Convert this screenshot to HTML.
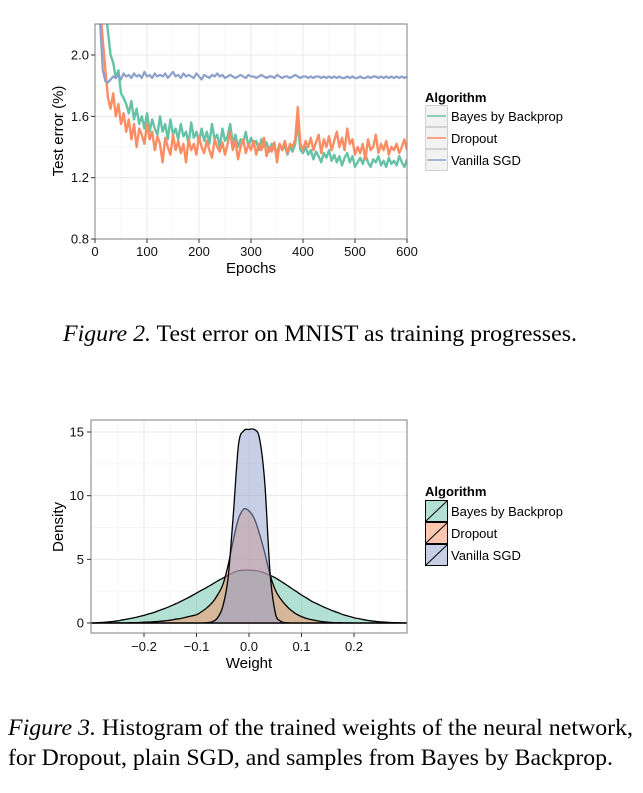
<!DOCTYPE html>
<html><head><meta charset="utf-8"><style>
html,body{margin:0;padding:0;background:#fff;width:643px;height:793px;overflow:hidden}
svg{display:block}
.t{font-family:"Liberation Sans",sans-serif}
.s{font-family:"Liberation Serif",serif;font-size:23.5px}
</style></head><body>
<svg id="root" width="643" height="793" viewBox="0 0 643 793">
<g id="top"></g>
<g id="bot"></g>
<text class="s" x="63" y="341" textLength="514" lengthAdjust="spacingAndGlyphs"><tspan font-style="italic">Figure 2.</tspan> Test error on MNIST as training progresses.</text>
<text class="s" x="8" y="735" textLength="625" lengthAdjust="spacingAndGlyphs"><tspan font-style="italic">Figure 3.</tspan> Histogram of the trained weights of the neural network,</text>
<text class="s" x="8" y="765" textLength="605" lengthAdjust="spacingAndGlyphs">for Dropout, plain SGD, and samples from Bayes by Backprop.</text>
</svg>
<script>
// ---- Figure 2 data (epochs 10..600 step 5) ----
const epochStart = 10, epochStep = 5;
const sgdErr = [2.2,1.9,1.83,1.82,1.84,1.86,1.85,1.87,1.84,1.88,
1.86,1.87,1.85,1.88,1.86,1.87,1.85,1.89,1.86,1.87,
1.85,1.88,1.86,1.87,1.86,1.88,1.85,1.87,1.89,1.86,
1.87,1.85,1.88,1.86,1.87,1.86,1.85,1.88,1.86,1.84,
1.87,1.86,1.85,1.87,1.86,1.88,1.86,1.87,1.85,1.86,
1.87,1.86,1.85,1.86,1.87,1.86,1.85,1.87,1.86,1.86,
1.85,1.86,1.87,1.86,1.85,1.86,1.86,1.85,1.87,1.86,
1.85,1.86,1.86,1.85,1.86,1.87,1.86,1.85,1.86,1.86,
1.85,1.86,1.85,1.86,1.86,1.85,1.86,1.85,1.86,1.85,
1.86,1.85,1.86,1.85,1.85,1.86,1.85,1.86,1.85,1.85,
1.86,1.85,1.85,1.86,1.85,1.86,1.86,1.85,1.86,1.85,
1.86,1.85,1.86,1.85,1.86,1.85,1.86,1.85,1.86];
const bayesErr = [2.5,2.4,2.3,2.15,2.0,1.95,1.85,1.9,1.75,1.72,
1.68,1.62,1.7,1.58,1.65,1.55,1.6,1.52,1.62,1.5,
1.58,1.52,1.48,1.6,1.5,1.55,1.45,1.58,1.48,1.52,
1.45,1.55,1.47,1.5,1.42,1.56,1.46,1.5,1.43,1.52,
1.44,1.5,1.42,1.55,1.45,1.48,1.4,1.52,1.44,1.47,
1.55,1.42,1.48,1.4,1.45,1.43,1.5,1.4,1.46,1.42,
1.44,1.38,1.45,1.4,1.43,1.37,1.42,1.39,1.36,1.42,
1.38,1.41,1.35,1.4,1.37,1.42,1.55,1.38,1.36,1.4,
1.35,1.38,1.32,1.37,1.34,1.3,1.36,1.33,1.38,1.31,
1.35,1.3,1.34,1.28,1.33,1.36,1.3,1.34,1.27,1.3,
1.33,1.29,1.35,1.3,1.27,1.32,1.3,1.34,1.28,1.31,
1.27,1.33,1.29,1.31,1.28,1.34,1.3,1.27,1.32];
const dropoutErr = [2.3,2.1,1.9,1.72,1.65,1.75,1.6,1.68,1.55,1.62,
1.5,1.58,1.45,1.55,1.4,1.52,1.48,1.42,1.55,1.45,
1.5,1.38,1.47,1.42,1.3,1.46,1.4,1.35,1.48,1.38,
1.44,1.36,1.42,1.3,1.45,1.38,1.42,1.35,1.47,1.4,
1.36,1.44,1.38,1.33,1.45,1.4,1.37,1.43,1.35,1.42,
1.5,1.38,1.44,1.32,1.4,1.45,1.36,1.42,1.38,1.44,
1.35,1.42,1.38,1.46,1.34,1.4,1.37,1.43,1.3,1.42,
1.38,1.44,1.36,1.42,1.4,1.45,1.66,1.42,1.38,1.44,
1.4,1.46,1.38,1.43,1.48,1.36,1.45,1.4,1.47,1.38,
1.44,1.5,1.4,1.46,1.38,1.52,1.42,1.45,1.35,1.4,
1.36,1.42,1.32,1.45,1.38,1.4,1.48,1.36,1.42,1.38,
1.44,1.35,1.4,1.38,1.42,1.36,1.4,1.45,1.38];
const xTicks1 = [0,100,200,300,400,500,600];
const yTicks1 = [0.8,1.2,1.6,2.0];
const yTickLabels1 = ["0.8","1.2","1.6","2.0"];
const seriesNames = ["Bayes by Backprop","Dropout","Vanilla SGD"];

// ---- Figure 3 data (weight -0.30..0.30 step 0.01) ----
const wStart = -0.30, wStep = 0.01;
const bayesDens = [0,0.02,0.05,0.08,0.12,0.17,0.25,0.32,0.4,0.5,
0.6,0.72,0.85,1.0,1.15,1.32,1.5,1.7,1.9,2.12,
2.35,2.58,2.8,3.05,3.3,3.52,3.75,3.95,4.1,4.15,
4.15,4.12,4.05,3.92,3.75,3.55,3.3,3.03,2.75,2.48,
2.2,1.95,1.7,1.5,1.3,1.12,0.95,0.8,0.65,0.53,
0.42,0.33,0.25,0.18,0.13,0.09,0.06,0.04,0.02,0.01,0];
const dropoutDens = [0,0,0,0,0,0.01,0.01,0.02,0.03,0.04,
0.06,0.08,0.1,0.13,0.17,0.22,0.3,0.35,0.45,0.55,
0.65,0.9,1.2,1.6,2.2,3.0,4.5,6.5,8.2,8.95,
8.8,8.2,7.0,5.5,3.8,2.6,1.9,1.4,1.0,0.7,
0.5,0.35,0.25,0.17,0.1,0.06,0.03,0.02,0.01,0.01,
0,0,0,0,0,0,0,0,0,0,0];
const sgdDens = [0,0,0,0,0,0,0,0,0,0,
0,0,0,0,0,0,0,0,0,0,
0,0,0.03,0.1,0.4,1.3,3.5,8.5,14,15.1,
15.2,15.2,14.5,11,4,0.8,0.15,0.03,0,0,
0,0,0,0,0,0,0,0,0,0,
0,0,0,0,0,0,0,0,0,0,0];
const xTicks2 = [-0.2,-0.1,0.0,0.1,0.2];
const xTickLabels2 = ["\u22120.2","\u22120.1","0.0","0.1","0.2"];
const yTicks2 = [0,5,10,15];

const NS = "http://www.w3.org/2000/svg";
function mk(tag, attrs, parent){const e=document.createElementNS(NS,tag);for(const k in attrs)e.setAttribute(k,attrs[k]);parent.appendChild(e);return e;}
const colors = ["#66c2a5","#fc8d62","#8da0cb"];

// ===== Top chart =====
(function(){
  const g = document.getElementById('top');
  const L=95,R=407,T=24,B=239;
  const xs = v => L + (v-0)/(600-0)*(R-L);
  const ys = v => 55 + (2.0-v)/(2.0-0.8)*(239-55);
  mk('rect',{x:L,y:T,width:R-L,height:B-T,fill:'#fff'},g);
  for (let v=50; v<600; v+=100){const l=mk('line',{x1:xs(v),x2:xs(v),y1:T,y2:B,stroke:'#f5f5f5','stroke-width':0.8},g);}
  for (let v=1.0; v<2.3; v+=0.4){const l=mk('line',{x1:L,x2:R,y1:ys(v),y2:ys(v),stroke:'#f5f5f5','stroke-width':0.8},g);}
  xTicks1.forEach(v=>{const l=mk('line',{x1:xs(v),x2:xs(v),y1:T,y2:B,stroke:'#e8e8e8','stroke-width':1},g);});
  yTicks1.forEach(v=>{const l=mk('line',{x1:L,x2:R,y1:ys(v),y2:ys(v),stroke:'#e8e8e8','stroke-width':1},g);});
  const cp = mk('clipPath',{id:'c1'},g); mk('rect',{x:L,y:T,width:R-L,height:B-T},cp);
  const sets=[bayesErr,dropoutErr,sgdErr];
  const names=['bayes-line','dropout-line','sgd-line'];
  sets.forEach((arr,i)=>{
    const d = arr.map((v,j)=>(j?'L':'M')+xs(epochStart+j*epochStep).toFixed(1)+','+ys(v).toFixed(1)).join('');
    const p=mk('path',{d:d,fill:'none',stroke:colors[i],'stroke-width':i==2?2.2:2.4,'clip-path':'url(#c1)','stroke-linejoin':'round'},g);
    
    
  });
  mk('rect',{x:L,y:T,width:R-L,height:B-T,fill:'none',stroke:'#7f7f7f','stroke-width':1},g);
  xTicks1.forEach(v=>{
    mk('line',{x1:xs(v),x2:xs(v),y1:B,y2:B+4,stroke:'#333'},g);
    const t=mk('text',{x:xs(v),y:B+17,'text-anchor':'middle','font-size':13,class:'t',fill:'#111'},g);t.textContent=v;
    
    
  });
  yTicks1.forEach((v,i)=>{
    mk('line',{x1:L-4,x2:L,y1:ys(v),y2:ys(v),stroke:'#333'},g);
    const t=mk('text',{x:L-6,y:ys(v)+4.5,'text-anchor':'end','font-size':13,class:'t',fill:'#111'},g);t.textContent=yTickLabels1[i];
    
    
  });
  let t=mk('text',{x:251,y:273,'text-anchor':'middle','font-size':15,class:'t'},g);t.textContent='Epochs';
  
  
  t=mk('text',{x:0,y:0,'text-anchor':'middle','font-size':15,class:'t',transform:'translate(63,131) rotate(-90)'},g);t.textContent='Test error (%)';
  
  
  t=mk('text',{x:425,y:102,'font-size':13,'font-weight':'bold',class:'t'},g);t.textContent='Algorithm';
  
  
  seriesNames.forEach((n,i)=>{
    const y0=105+i*22;
    const k=mk('g',{},g);
    
    
    mk('rect',{x:425.5,y:y0+0.5,width:22,height:21,fill:'#f2f2f2',stroke:'#d0d0d0'},k);
    mk('line',{x1:427,x2:446,y1:y0+11,y2:y0+11,stroke:colors[i],'stroke-width':1.6},k);
    const tt=mk('text',{x:451,y:y0+16,'font-size':13,class:'t'},k);tt.textContent=n;
  });
})();

// ===== Bottom chart =====
(function(){
  const g = document.getElementById('bot');
  const L=91,R=407,T=420,B=633;
  const xs = v => 249 + v*525;
  const ys = v => 623 - v*(623-432)/15;
  mk('rect',{x:L,y:T,width:R-L,height:B-T,fill:'#fff'},g);
  [-0.25,-0.15,-0.05,0.05,0.15,0.25].forEach(v=>{const l=mk('line',{x1:xs(v),x2:xs(v),y1:T,y2:B,stroke:'#f5f5f5','stroke-width':0.8},g);});
  [2.5,7.5,12.5].forEach(v=>{const l=mk('line',{x1:L,x2:R,y1:ys(v),y2:ys(v),stroke:'#f5f5f5','stroke-width':0.8},g);});
  xTicks2.forEach(v=>{const l=mk('line',{x1:xs(v),x2:xs(v),y1:T,y2:B,stroke:'#e8e8e8'},g);});
  yTicks2.forEach(v=>{const l=mk('line',{x1:L,x2:R,y1:ys(v),y2:ys(v),stroke:'#e8e8e8'},g);});
  const cp = mk('clipPath',{id:'c2'},g); mk('rect',{x:L,y:T,width:R-L,height:B-T},cp);
  function smooth(arr){
    const pts=arr.map((v,j)=>[xs(wStart+j*wStep),ys(v)]);
    let d='M'+pts[0][0].toFixed(1)+','+pts[0][1].toFixed(1);
    for(let i=0;i<pts.length-1;i++){
      const p0=pts[Math.max(0,i-1)],p1=pts[i],p2=pts[i+1],p3=pts[Math.min(pts.length-1,i+2)];
      const c1=[p1[0]+(p2[0]-p0[0])/6,p1[1]+(p2[1]-p0[1])/6];
      const c2=[p2[0]-(p3[0]-p1[0])/6,p2[1]-(p3[1]-p1[1])/6];
      d+='C'+c1[0].toFixed(1)+','+Math.min(c1[1],623).toFixed(1)+' '+c2[0].toFixed(1)+','+Math.min(c2[1],623).toFixed(1)+' '+p2[0].toFixed(1)+','+p2[1].toFixed(1);
    }
    return d+'Z';
  }
  const sets=[bayesDens,dropoutDens,sgdDens];
  const names=['bayes-density','dropout-density','sgd-density'];
  sets.forEach((arr,i)=>{
    const p=mk('path',{d:smooth(arr),fill:colors[i],'fill-opacity':0.5,stroke:'#000','stroke-width':1.3,'clip-path':'url(#c2)'},g);
    
    
  });
  mk('rect',{x:L,y:T,width:R-L,height:B-T,fill:'none',stroke:'#7f7f7f','stroke-width':1},g);
  xTicks2.forEach((v,i)=>{
    mk('line',{x1:xs(v),x2:xs(v),y1:B,y2:B+4,stroke:'#333'},g);
    const t=mk('text',{x:xs(v),y:B+18,'text-anchor':'middle','font-size':13,class:'t',fill:'#111'},g);t.textContent=xTickLabels2[i];
    
    
  });
  yTicks2.forEach(v=>{
    mk('line',{x1:L-4,x2:L,y1:ys(v),y2:ys(v),stroke:'#333'},g);
    const t=mk('text',{x:L-7,y:ys(v)+4.5,'text-anchor':'end','font-size':13,class:'t',fill:'#111'},g);t.textContent=v;
    
    
  });
  let t=mk('text',{x:249,y:668,'text-anchor':'middle','font-size':15,class:'t'},g);t.textContent='Weight';
  
  
  t=mk('text',{x:0,y:0,'text-anchor':'middle','font-size':15,class:'t',transform:'translate(63,527) rotate(-90)'},g);t.textContent='Density';
  
  
  t=mk('text',{x:425,y:496,'font-size':13,'font-weight':'bold',class:'t'},g);t.textContent='Algorithm';
  
  
  seriesNames.forEach((n,i)=>{
    const y0=500+i*22;
    const k=mk('g',{},g);
    
    
    mk('rect',{x:425.5,y:y0+0.5,width:22,height:21,fill:'#fff',stroke:'none'},k);
    mk('rect',{x:425.5,y:y0+0.5,width:22,height:21,fill:colors[i],'fill-opacity':0.5,stroke:'#000','stroke-width':1},k);
    mk('line',{x1:426,x2:447,y1:y0+21,y2:y0+1,stroke:'#000','stroke-width':1},k);
    const tt=mk('text',{x:451,y:y0+16,'font-size':13,class:'t'},k);tt.textContent=n;
  });
})();
</script>
</body></html>
